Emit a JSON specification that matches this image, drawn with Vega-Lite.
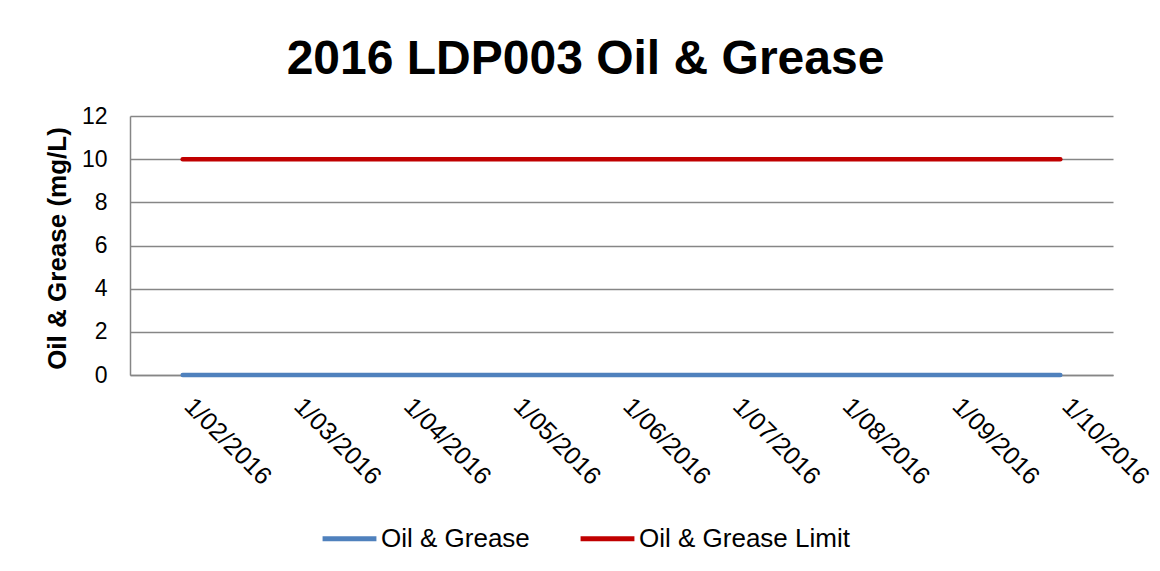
{
  "$schema": "https://vega.github.io/schema/vega-lite/v6.json",
  "width": 983,
  "height": 259,
  "autosize": {"type": "none"},
  "padding": {"left": 130, "top": 116, "right": 47, "bottom": 196},
  "background": "white",
  "title": {
    "text": "2016 LDP003 Oil & Grease",
    "font": "Liberation Sans",
    "fontSize": 48,
    "fontWeight": "bold",
    "color": "#000000",
    "anchor": "middle",
    "baseline": "alphabetic",
    "offset": -17,
    "dx": -36
  },
  "data": {
    "values": [
      {"date": "1/02/2016", "series": "Oil & Grease", "value": 0},
      {"date": "1/03/2016", "series": "Oil & Grease", "value": 0},
      {"date": "1/04/2016", "series": "Oil & Grease", "value": 0},
      {"date": "1/05/2016", "series": "Oil & Grease", "value": 0},
      {"date": "1/06/2016", "series": "Oil & Grease", "value": 0},
      {"date": "1/07/2016", "series": "Oil & Grease", "value": 0},
      {"date": "1/08/2016", "series": "Oil & Grease", "value": 0},
      {"date": "1/09/2016", "series": "Oil & Grease", "value": 0},
      {"date": "1/10/2016", "series": "Oil & Grease", "value": 0},
      {"date": "1/02/2016", "series": "Oil & Grease Limit", "value": 10},
      {"date": "1/03/2016", "series": "Oil & Grease Limit", "value": 10},
      {"date": "1/04/2016", "series": "Oil & Grease Limit", "value": 10},
      {"date": "1/05/2016", "series": "Oil & Grease Limit", "value": 10},
      {"date": "1/06/2016", "series": "Oil & Grease Limit", "value": 10},
      {"date": "1/07/2016", "series": "Oil & Grease Limit", "value": 10},
      {"date": "1/08/2016", "series": "Oil & Grease Limit", "value": 10},
      {"date": "1/09/2016", "series": "Oil & Grease Limit", "value": 10},
      {"date": "1/10/2016", "series": "Oil & Grease Limit", "value": 10}
    ]
  },
  "mark": {"type": "line", "strokeWidth": 4.5, "strokeCap": "round"},
  "encoding": {
    "x": {
      "field": "date",
      "type": "ordinal",
      "sort": null,
      "scale": {"type": "point", "padding": 0.48},
      "axis": {
        "title": null,
        "labelAngle": 45,
        "labelAlign": "left",
        "labelBaseline": "top",
        "labelPadding": 18,
        "labelOffset": 14,
        "ticks": false,
        "grid": false,
        "domain": true,
        "domainColor": "#868686",
        "domainWidth": 1.5,
        "labelFont": "Liberation Sans",
        "labelFontSize": 25,
        "labelColor": "#000000"
      }
    },
    "y": {
      "field": "value",
      "type": "quantitative",
      "scale": {"domain": [0, 12]},
      "axis": {
        "title": "Oil & Grease (mg/L)",
        "values": [0, 2, 4, 6, 8, 10, 12],
        "ticks": false,
        "labelPadding": 23,
        "grid": true,
        "gridColor": "#868686",
        "gridWidth": 1.5,
        "domainColor": "#868686",
        "domainWidth": 1.5,
        "labelFont": "Liberation Sans",
        "labelFontSize": 23,
        "labelColor": "#000000",
        "titleFont": "Liberation Sans",
        "titleFontSize": 26,
        "titleFontWeight": "bold",
        "titleColor": "#000000",
        "titleX": -73,
        "titleY": 132,
        "titleAngle": -90,
        "titleAlign": "center",
        "titleBaseline": "middle"
      }
    },
    "color": {
      "field": "series",
      "type": "nominal",
      "scale": {
        "domain": ["Oil & Grease", "Oil & Grease Limit"],
        "range": ["#4F81BD", "#C00000"]
      },
      "legend": {
        "title": null,
        "orient": "none",
        "direction": "horizontal",
        "legendX": 190,
        "legendY": 393,
        "symbolType": "stroke",
        "symbolSize": 2900,
        "symbolStrokeWidth": 5,
        "labelFont": "Liberation Sans",
        "labelFontSize": 26,
        "labelLimit": 500,
        "labelColor": "#000000",
        "labelOffset": 2,
        "columnPadding": 40
      }
    }
  },
  "config": {
    "view": {"stroke": null}
  }
}
